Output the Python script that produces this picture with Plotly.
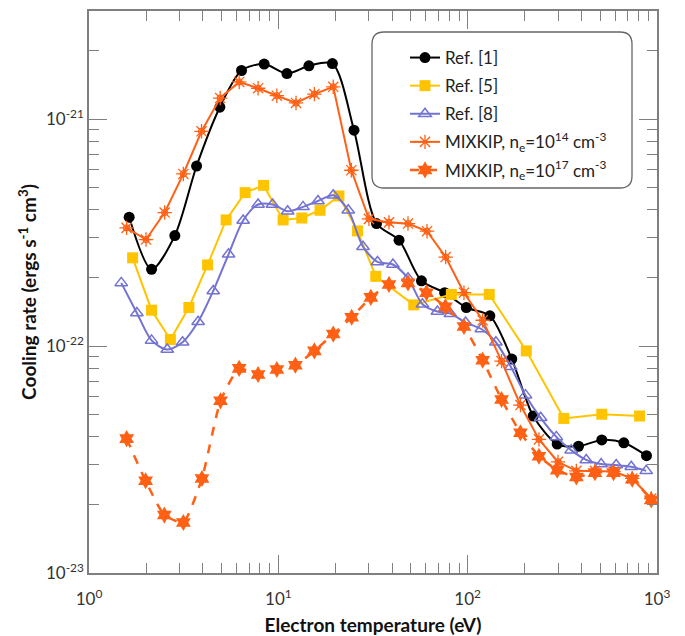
import plotly.graph_objects as go
import numpy as np

# ---------------- data ----------------
T_ref1 = [1.63, 2.14, 2.84, 3.70, 4.91, 6.39, 8.42, 11.1, 14.5, 19.3, 25.1, 33.0, 43.4, 57.0,
          75.6, 98.4, 131, 171, 222, 297, 385, 511, 668, 880]
R_ref1 = [3.70e-22, 2.18e-22, 3.07e-22, 6.22e-22, 1.13e-21, 1.64e-21, 1.75e-21, 1.59e-21,
          1.72e-21, 1.76e-21, 8.95e-22, 3.47e-22, 2.93e-22, 1.94e-22, 1.72e-22, 1.48e-22,
          1.36e-22, 8.77e-23, 4.92e-23, 3.70e-23, 3.62e-23, 3.86e-23, 3.75e-23, 3.29e-23]

T_ref5 = [1.70, 2.14, 2.69, 3.37, 4.23, 5.30, 6.68, 8.36, 10.6, 13.3, 16.6, 20.9, 26.2, 32.7,
          51.9, 82.0, 130, 204, 322, 511, 809]
R_ref5 = [2.45e-22, 1.44e-22, 1.07e-22, 1.48e-22, 2.28e-22, 3.60e-22, 4.75e-22, 5.11e-22,
          3.60e-22, 3.67e-22, 3.97e-22, 4.59e-22, 3.22e-22, 2.03e-22, 1.52e-22, 1.69e-22,
          1.69e-22, 9.53e-23, 4.80e-23, 5.01e-23, 4.92e-23]

T_ref8 = [1.48, 1.79, 2.14, 2.59, 3.12, 3.77, 4.53, 5.46, 6.52, 7.82, 9.32, 11.2, 13.5, 16.2,
          19.5, 23.4, 28.0, 33.4, 40.3, 48.4, 57.7, 69.2, 81.1, 97.5, 118, 141, 169, 202, 243,
          294, 352, 423, 507, 609, 731, 877]
R_ref8 = [1.90e-22, 1.40e-22, 1.06e-22, 9.66e-23, 1.04e-22, 1.28e-22, 1.75e-22, 2.54e-22,
          3.58e-22, 4.21e-22, 4.21e-22, 3.93e-22, 4.11e-22, 4.36e-22, 4.62e-22, 3.97e-22,
          2.74e-22, 2.35e-22, 2.29e-22, 1.99e-22, 1.53e-22, 1.42e-22, 1.39e-22, 1.27e-22,
          1.19e-22, 1.04e-22, 8.11e-23, 6.08e-23, 4.83e-23, 3.98e-23, 3.48e-23, 3.15e-23,
          3.02e-23, 2.99e-23, 2.94e-23, 2.82e-23]

T_mix14 = [1.58, 2.00, 2.51, 3.15, 3.93, 4.93, 6.21, 7.82, 9.82, 12.4, 15.5, 19.5, 24.3, 30.1,
           38.4, 48.4, 61.0, 76.5, 95.6, 120, 151, 190, 238, 300, 375, 470, 589, 740, 932]
R_mix14 = [3.32e-22, 2.95e-22, 3.88e-22, 5.74e-22, 8.85e-22, 1.24e-21, 1.46e-21, 1.37e-21,
           1.27e-21, 1.18e-21, 1.29e-21, 1.39e-21, 5.96e-22, 3.64e-22, 3.51e-22, 3.47e-22,
           3.21e-22, 2.47e-22, 1.72e-22, 1.30e-22, 8.59e-23, 5.50e-23, 3.88e-23, 3.09e-23,
           2.82e-23, 2.82e-23, 2.80e-23, 2.61e-23, 2.13e-23]

T_mix17 = [1.58, 1.99, 2.50, 3.15, 3.95, 4.95, 6.21, 7.82, 9.82, 12.3, 15.5, 19.5, 24.4, 30.8,
           38.4, 48.4, 60.6, 76.3, 95.6, 120, 151, 190, 238, 297, 375, 470, 589, 740, 932]
R_mix17 = [3.91e-23, 2.55e-23, 1.80e-23, 1.67e-23, 2.61e-23, 5.74e-23, 7.98e-23, 7.50e-23,
           7.89e-23, 8.24e-23, 9.53e-23, 1.13e-22, 1.34e-22, 1.64e-22, 1.87e-22, 1.90e-22,
           1.72e-22, 1.49e-22, 1.22e-22, 8.67e-23, 5.82e-23, 4.15e-23, 3.27e-23, 2.84e-23,
           2.65e-23, 2.77e-23, 2.77e-23, 2.59e-23, 2.10e-23]

x_tickvals = [1, 10, 100, 1000]
x_ticktext = ["10<sup>0</sup>", "10<sup>1</sup>", "10<sup>2</sup>", "10<sup>3</sup>"]
y_tickvals = [1e-23, 1e-22, 1e-21]
y_ticktext = ["10<sup>-23</sup>", "10<sup>-22</sup>", "10<sup>-21</sup>"]

names = ["Ref. [1]", "Ref. [5]", "Ref. [8]",
         "MIXKIP, n<sub>e</sub>=10<sup>14</sup> cm<sup>-3</sup>",
         "MIXKIP, n<sub>e</sub>=10<sup>17</sup> cm<sup>-3</sup>"]

# ---------------- styling ----------------
BLACK = "#000000"
YELLOW = "#FFC400"
BLUE = "#7373D2"
ORANGE = "#FF6014"
FONT = "Lato"

fig = go.Figure()

fig.add_trace(go.Scatter(x=T_ref1, y=R_ref1, name=names[0], legendgroup="a",
                         mode="lines+markers", line=dict(color=BLACK, width=2, shape="spline", smoothing=0.8),
                         marker=dict(symbol="circle", size=11, color=BLACK)))
fig.add_trace(go.Scatter(x=T_ref5, y=R_ref5, name=names[1], legendgroup="b",
                         mode="lines+markers", line=dict(color=YELLOW, width=2),
                         marker=dict(symbol="square", size=11, color=YELLOW)))
fig.add_trace(go.Scatter(x=T_ref8, y=R_ref8, name=names[2], legendgroup="c",
                         mode="lines+markers", line=dict(color=BLUE, width=2, shape="spline", smoothing=0.8),
                         marker=dict(symbol="triangle-up-open", size=11, color=BLUE, line=dict(width=1.5, color=BLUE))))
fig.add_trace(go.Scatter(x=T_mix14, y=R_mix14, name=names[3], legendgroup="d",
                         mode="lines+markers", line=dict(color=ORANGE, width=2),
                         marker=dict(symbol="asterisk-open", size=12, color=ORANGE, line=dict(width=1.3, color=ORANGE))))
fig.add_trace(go.Scatter(x=T_mix14, y=R_mix14, name=names[3], legendgroup="d", showlegend=False,
                         mode="markers", hoverinfo="skip",
                         marker=dict(symbol="circle-open", size=6, color=ORANGE, line=dict(width=1.2, color=ORANGE))))
fig.add_trace(go.Scatter(x=T_mix17, y=R_mix17, name=names[4], legendgroup="e",
                         mode="lines+markers", line=dict(color=ORANGE, width=2.5, dash="dash", shape="spline", smoothing=0.5),
                         marker=dict(symbol="hexagram", size=13, color=ORANGE)))

AXCOL = "#7f7f7f"
OFF = 8  # page body margin offset
W, H = 685 - OFF, 636 - OFF
# desired plot area in window pixels: x 89..657, y 11..573
L = 89 - OFF
T = 11 - OFF
R = (W + OFF) - 657
B = (H + OFF) - 573

def minor_vals(lo, hi):
    vals = []
    for e in range(lo, hi):
        for m in range(2, 10):
            vals.append(m * 10.0 ** e)
    return vals

fig.update_xaxes(type="log", range=[0, 3], tickmode="array", tickvals=x_tickvals, ticktext=x_ticktext,
                 automargin=False, ticklabelstandoff=10,
                 ticks="inside", ticklen=18, tickwidth=1.2, tickcolor=AXCOL,
                 showline=True, linecolor=AXCOL, linewidth=1.5, mirror="ticks",
                 showgrid=False, zeroline=False,
                 minor=dict(ticks="inside", ticklen=10, tickwidth=1.2, tickcolor=AXCOL,
                            tickvals=minor_vals(0, 3), showgrid=False),
                 tickfont=dict(family=FONT, size=17, color="#333333"),
                 title=dict(text="<b>Electron temperature (eV)</b>", font=dict(family=FONT, size=19, color="#111111"),
                            standoff=14))
fig.update_yaxes(type="log", range=[-23, np.log10(3e-21)], tickmode="array", tickvals=y_tickvals, ticktext=y_ticktext,
                 automargin=False,
                 ticks="inside", ticklen=18, tickwidth=1.2, tickcolor=AXCOL,
                 showline=True, linecolor=AXCOL, linewidth=1.5, mirror="ticks",
                 showgrid=False, zeroline=False,
                 minor=dict(ticks="inside", ticklen=10, tickwidth=1.2, tickcolor=AXCOL,
                            tickvals=minor_vals(-23, -20), showgrid=False),
                 tickfont=dict(family=FONT, size=17, color="#333333"),
                 title=dict(text="<b>Cooling rate (ergs s<sup>-1</sup> cm<sup>3</sup>)</b>",
                            font=dict(family=FONT, size=19, color="#111111"), standoff=4))

pw, ph = 657 - 89, 573 - 11
def px(x):
    return (x - 89) / pw
def py(y):
    return (573 - y) / ph

x0, x1, y0, y1 = px(372), px(632), py(188), py(32)
rx, ry = 12 / pw, 12 / ph
path = (f"M {x0+rx},{y1} L {x1-rx},{y1} Q {x1},{y1} {x1},{y1-ry} "
        f"L {x1},{y0+ry} Q {x1},{y0} {x1-rx},{y0} L {x0+rx},{y0} Q {x0},{y0} {x0},{y0+ry} "
        f"L {x0},{y1-ry} Q {x0},{y1} {x0+rx},{y1} Z")

fig.update_layout(
    width=W, height=H,
    margin=dict(l=L, r=R, t=T, b=B, autoexpand=False),
    plot_bgcolor="white", paper_bgcolor="white",
    shapes=[dict(type="path", xref="paper", yref="paper", path=path,
                 line=dict(color="#666666", width=1.3), fillcolor="rgba(255,255,255,1)", layer="below")],
    legend=dict(x=px(405), y=py(40), xanchor="left", yanchor="top",
                bgcolor="rgba(0,0,0,0)", borderwidth=0,
                traceorder="grouped", tracegroupgap=3,
                font=dict(family=FONT, size=17, color="#222222")),
    showlegend=True,
)

fig.write_html("out.html")
